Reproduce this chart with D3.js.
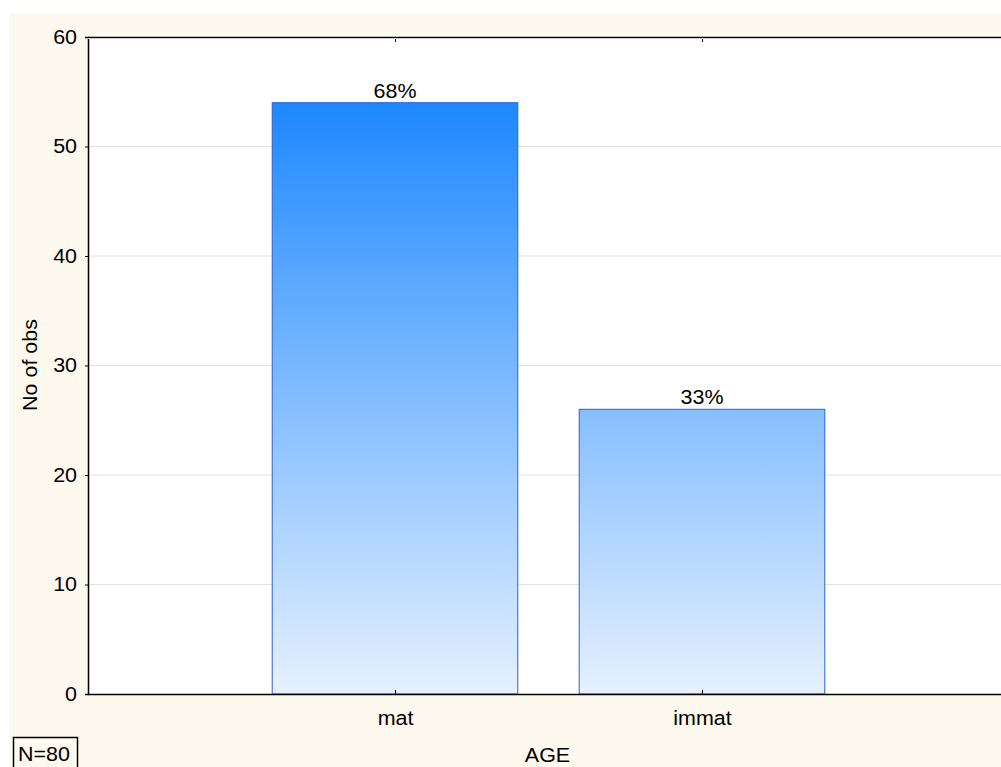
<!DOCTYPE html>
<html><head><meta charset="utf-8">
<script src="https://cdn.jsdelivr.net/npm/d3@7"></script>
<style>body{margin:0;background:#fff;}svg{display:block;font-family:"Liberation Sans",Arial,sans-serif;}</style>
</head><body>
<script>
const categories = ["mat", "immat"];
const counts = [54, 26];
const percentLabels = ["68%", "33%"];
const yTicks = [0, 10, 20, 30, 40, 50, 60];
const xTitle = "AGE";
const yTitle = "No of obs";
const nLabel = "N=80";

const W = 1001, H = 767;
const FS = 19.5, SX = 1.1;
const svg = d3.select("body").append("svg").attr("width", W).attr("height", H);

function stretch(sel) {
  sel.each(function () {
    const t = d3.select(this);
    const xv = +t.attr("x") || 0;
    const tr = t.attr("transform") || "";
    t.attr("x", xv / SX).attr("transform", (tr + ` scale(${SX},1)`).trim())
      .attr("font-size", FS).attr("fill", "#000").attr("font-family", "Liberation Sans, Arial, sans-serif");
  });
}

svg.append("rect").attr("x", 9).attr("y", 13).attr("width", W - 9).attr("height", H - 13).attr("fill", "#fdf9ee");

const L = 88, T = 37, B = 694, R = 1009;
const x = d3.scaleLinear().domain([0, categories.length + 1]).range([L, R]);
const y = d3.scaleLinear().domain([0, 60]).range([B, T]);
const step = x(1) - x(0);
const bw = step * 0.8;

svg.append("rect").attr("x", L).attr("y", T).attr("width", R - L).attr("height", B - T).attr("fill", "#fff");

// gridlines
svg.append("g").selectAll("line").data(yTicks.filter(d => d > 0 && d < 60)).join("line")
  .attr("x1", L).attr("x2", R).attr("y1", d => y(d)).attr("y2", d => y(d))
  .attr("stroke", "#e2e2e2").attr("stroke-width", 1);

const defs = svg.append("defs");
const grad = defs.append("linearGradient").attr("id", "g").attr("gradientUnits", "userSpaceOnUse")
  .attr("x1", 0).attr("x2", 0).attr("y1", y(d3.max(counts))).attr("y2", y(0));
grad.append("stop").attr("offset", 0).attr("stop-color", "#1e88ff");
grad.append("stop").attr("offset", 1).attr("stop-color", "#e6f1ff");

svg.append("g").selectAll("rect").data(counts).join("rect")
  .attr("x", (d, i) => x(i + 1) - bw / 2).attr("y", d => y(d))
  .attr("width", bw).attr("height", d => y(0) - y(d))
  .attr("fill", "url(#g)").attr("stroke", "#2a62d0").attr("stroke-width", 1);

svg.append("g").selectAll("text").data(counts).join("text")
  .attr("text-anchor", "middle")
  .attr("transform", (d, i) => `translate(${x(i + 1)},${y(d) - 5})`)
  .text((d, i) => percentLabels[i])
  .call(stretch);

// axes
const yAxis = d3.axisLeft(y).tickValues(yTicks).tickSize(3).tickPadding(8);
const gy = svg.append("g").attr("transform", `translate(${L},0)`).call(yAxis);
gy.select(".domain").attr("stroke", "#000").attr("stroke-width", 1.5);
gy.selectAll(".tick line").attr("stroke", "#000");
gy.selectAll("text").call(stretch);

const xAxis = d3.axisBottom(x).tickValues(categories.map((c, i) => i + 1)).tickFormat((d) => categories[d - 1]).tickSize(-4).tickSizeOuter(0);
const gx = svg.append("g").attr("transform", `translate(0,${B})`).call(xAxis);
gx.select(".domain").attr("stroke", "#000").attr("stroke-width", 1.5);
gx.selectAll("text").attr("y", 31).attr("dy", null).call(stretch);

// top border with ticks
const xTop = d3.axisTop(x).tickValues(categories.map((c, i) => i + 1)).tickFormat("").tickSize(-5).tickSizeOuter(0);
const gt = svg.append("g").attr("transform", `translate(0,${T})`).call(xTop);
gt.select(".domain").attr("stroke", "#000").attr("stroke-width", 1.5);
svg.append("line").attr("x1", L).attr("x2", R).attr("y1", T + 1.5).attr("y2", T + 1.5).attr("stroke", "#ccc").attr("stroke-width", 1);

svg.append("text").attr("transform", `translate(${(L + R) / 2 - 1},762)`).attr("text-anchor", "middle").text(xTitle).call(stretch);
svg.append("text").attr("transform", "translate(37,365) rotate(-90)").attr("text-anchor", "middle").text(yTitle).call(stretch);

svg.append("rect").attr("x", 13.5).attr("y", 737.5).attr("width", 64).attr("height", 40).attr("fill", "none").attr("stroke", "#000").attr("stroke-width", 1.5);
svg.append("text").attr("transform", "translate(18,761)").attr("text-anchor", "start").text(nLabel).call(stretch);
</script>
</body></html>
